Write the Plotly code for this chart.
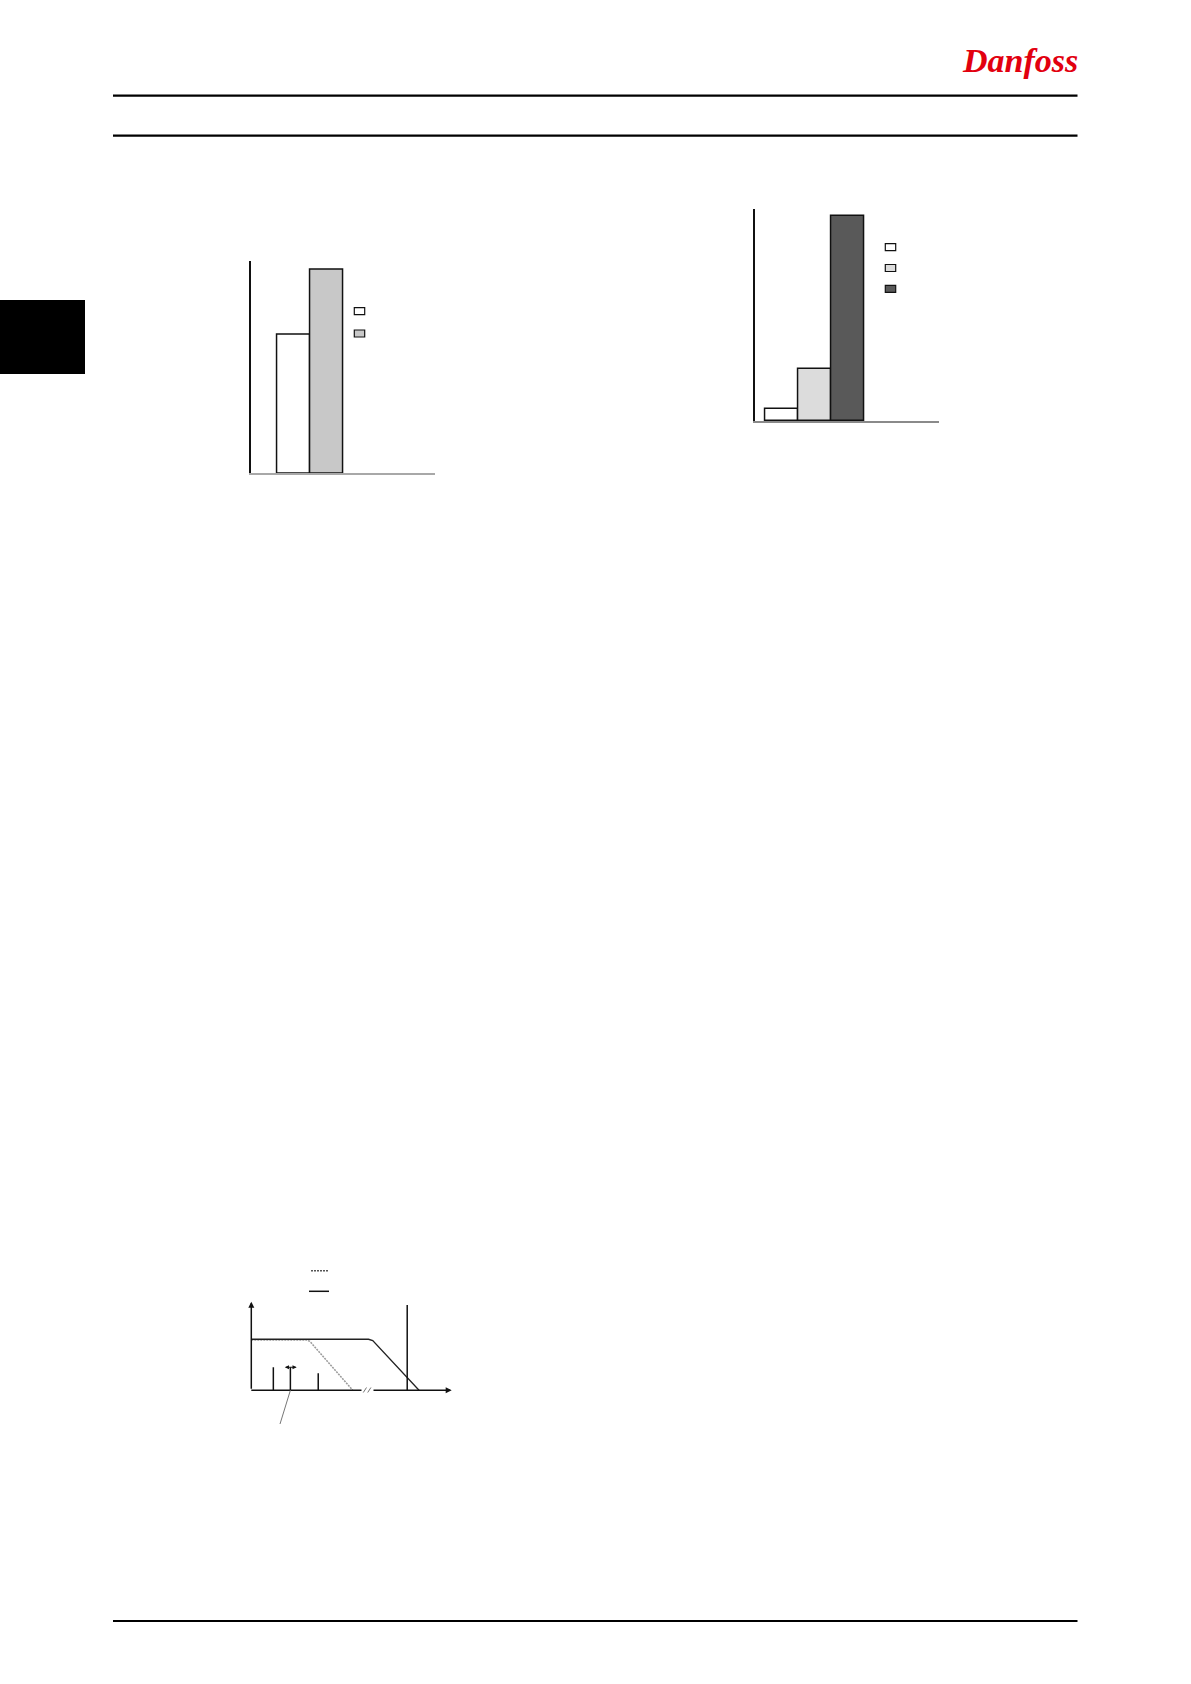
import plotly.graph_objects as go

W, H = 1191, 1684

# ---------------- data ----------------
# Chart 1 (two-bar comparison)
c1_labels = ["A", "B"]
c1_values = [65.2, 96.0]
c1_colors = ["#ffffff", "#c8c8c8"]

# Chart 2 (three-bar comparison)
c2_labels = ["A", "B", "C"]
c2_values = [5.5, 24.4, 96.5]
c2_colors = ["#ffffff", "#dcdcdc", "#595959"]

# Chart 3 (torque / speed curves)
c3_solid_x = [0, 58.5, 60.6, 62.6, 83.7]
c3_solid_y = [57.6, 57.6, 56.0, 51.1, 0]
c3_dash_x = [0, 27.9, 29.2, 30.1, 50.6]
c3_dash_y = [56.8, 56.8, 55.2, 53.0, 0]
c3_marks_x = [11.0, 19.5, 33.4]
c3_marks_h = [26.0, 26.0, 19.2]
c3_limit_x = 77.8
c3_limit_h = 96.3


def px(x):
    return x / W


def py(y):
    return 1 - y / H


fig = go.Figure()

# ---------------- chart 1 ----------------
U1X, O1X = 33.2, 251.3     # px per unit, origin px
U1Y, O1Y = 2.126, 473.3


def c1x(p):
    return (p - O1X) / U1X


def c1y(p):
    return (O1Y - p) / U1Y


c1_start = c1x(293.6)
fig.add_trace(go.Bar(
    x=[c1_start + i for i in range(len(c1_values))], y=c1_values, width=1,
    marker=dict(color=c1_colors, line=dict(color="#111111", width=1.5)),
    text=c1_labels, textposition="none", hoverinfo="y",
    xaxis="x", yaxis="y", showlegend=False))

# ---------------- chart 2 ----------------
U2X, O2X = 33.0, 755.3
U2Y, O2Y = 2.12, 421.0


def c2x(p):
    return (p - O2X) / U2X


def c2y(p):
    return (O2Y - p) / U2Y


c2_start = c2x(781.4)
fig.add_trace(go.Bar(
    x=[c2_start + i * 1.01 for i in range(len(c2_values))], y=c2_values, width=1,
    marker=dict(color=c2_colors, line=dict(color="#111111", width=1.5)),
    text=c2_labels, textposition="none", hoverinfo="y",
    xaxis="x2", yaxis="y2", showlegend=False))

# ---------------- chart 3 ----------------
U3X, O3X = 2.004, 251.3
U3Y, O3Y = 0.886, 1390.3


def c3x(p):
    return (p - O3X) / U3X


def c3y(p):
    return (O3Y - p) / U3Y


fig.add_trace(go.Scatter(x=c3_dash_x, y=c3_dash_y, mode="lines",
                         line=dict(color="#9a9a9a", width=1.5, dash="2px,1px"),
                         xaxis="x3", yaxis="y3", showlegend=False))
fig.add_trace(go.Scatter(x=c3_solid_x, y=c3_solid_y, mode="lines",
                         line=dict(color="#222222", width=1.3),
                         xaxis="x3", yaxis="y3", showlegend=False))
mx, my = [], []
for x, h in zip(c3_marks_x, c3_marks_h):
    mx += [x, x, None]
    my += [0, h, None]
mx += [c3_limit_x, c3_limit_x]
my += [0, c3_limit_h]
fig.add_trace(go.Scatter(x=mx, y=my, mode="lines",
                         line=dict(color="#111111", width=1.5),
                         xaxis="x3", yaxis="y3", showlegend=False))

# ---------------- layout ----------------
noax = dict(showgrid=False, zeroline=False, showticklabels=False, ticks="", fixedrange=True)
fig.update_layout(
    width=W, height=H, autosize=False,
    margin=dict(l=0, r=0, t=0, b=0),
    paper_bgcolor="white", plot_bgcolor="rgba(0,0,0,0)",
    bargap=0,
    xaxis=dict(domain=[px(O1X), px(434.7)], range=[0, c1x(434.7)],
               showline=True, linecolor="#a8a8a8", linewidth=2, anchor="y", **noax),
    yaxis=dict(domain=[py(O1Y), py(260.7)], range=[0, 100],
               showline=True, linecolor="#111111", linewidth=1.5, anchor="x", **noax),
    xaxis2=dict(domain=[px(O2X), px(939.3)], range=[0, c2x(939.3)],
                showline=True, linecolor="#8a8a8a", linewidth=1.5, anchor="y2", **noax),
    yaxis2=dict(domain=[py(O2Y), py(209.0)], range=[0, 100],
                showline=True, linecolor="#111111", linewidth=1.5, anchor="x2", **noax),
    xaxis3=dict(domain=[px(240), px(460)], range=[c3x(240), c3x(460)],
                showline=False, anchor="y3", **noax),
    yaxis3=dict(domain=[py(1430), py(1262)], range=[c3y(1430), c3y(1262)],
                showline=False, anchor="x3", **noax),
)

shapes = []
# page frame decorations
for yy in (95.7, 135.7, 1621.0):
    shapes.append(dict(type="line", xref="paper", yref="paper",
                       x0=px(113), x1=px(1077.5), y0=py(yy), y1=py(yy),
                       line=dict(color="black", width=2.2)))
shapes.append(dict(type="rect", xref="paper", yref="paper",
                   x0=px(0), x1=px(85), y0=py(374), y1=py(300),
                   fillcolor="black", line=dict(width=0)))

# chart 1 legend swatches
for i, col in enumerate(c1_colors):
    top = 307.7 + i * 22.3
    shapes.append(dict(type="rect", xref="x", yref="y",
                       x0=c1x(354.3), x1=c1x(364.7), y0=c1y(top + 7), y1=c1y(top),
                       fillcolor=col, line=dict(color="#111111", width=1.2)))
# chart 2 legend swatches
for i, col in enumerate(c2_colors):
    top = 243.7 + i * 20.8
    shapes.append(dict(type="rect", xref="x2", yref="y2",
                       x0=c2x(885.3), x1=c2x(895.7), y0=c2y(top + 7), y1=c2y(top),
                       fillcolor=col, line=dict(color="#111111", width=1.2)))

# chart 3 axes / helpers
shapes.append(dict(type="line", xref="x3", yref="y3", x0=0, x1=c3x(361.5), y0=0, y1=0,
                   line=dict(color="#111111", width=1.5)))
shapes.append(dict(type="line", xref="x3", yref="y3", x0=19.5, x1=c3x(280), y0=0, y1=c3y(1424),
                   line=dict(color="#777777", width=1)))
shapes.append(dict(type="line", xref="x3", yref="y3", x0=c3x(311), x1=c3x(329),
                   y0=c3y(1270.7), y1=c3y(1270.7),
                   line=dict(color="#555555", width=1.5, dash="2px,1px")))
shapes.append(dict(type="line", xref="x3", yref="y3", x0=c3x(309), x1=c3x(329),
                   y0=c3y(1291.3), y1=c3y(1291.3),
                   line=dict(color="#111111", width=1.5)))
for dx in (0, 2.2):
    shapes.append(dict(type="line", xref="x3", yref="y3",
                       x0=c3x(363.3) + dx, x1=c3x(366.5) + dx, y0=c3y(1392.5), y1=c3y(1387.5),
                       line=dict(color="#777777", width=1)))
fig.update_layout(shapes=shapes)

annotations = [
    # y axis with arrow
    dict(x=0, y=c3y(1301.7), ax=0, ay=0, xref="x3", yref="y3", axref="x3", ayref="y3",
         text="", showarrow=True, arrowhead=2, arrowsize=0.8, arrowwidth=1.5, arrowcolor="#111111"),
    # x axis right part with arrow
    dict(x=c3x(451.7), y=0, ax=c3x(372), ay=0, xref="x3", yref="y3", axref="x3", ayref="y3",
         text="", showarrow=True, arrowhead=2, arrowsize=0.8, arrowwidth=1.5, arrowcolor="#111111"),
    # double arrow
    dict(x=c3x(296.7), y=26, ax=c3x(283.3), ay=26, xref="x3", yref="y3", axref="x3", ayref="y3",
         text="", showarrow=True, arrowhead=2, startarrowhead=2, arrowside="end+start",
         arrowsize=0.7, startarrowsize=0.7, arrowwidth=1.2, arrowcolor="#111111"),
    # logo
    dict(x=px(1020), y=py(61), xref="paper", yref="paper", text="<b><i>Danfoss</i></b>",
         showarrow=False, font=dict(family="Liberation Serif", size=34, color="#E2000F"),
         xanchor="center", yanchor="middle"),
]
fig.update_layout(annotations=annotations)

fig.write_html("out.html", config={"displayModeBar": False},
               post_script="document.body.style.margin='0';")
